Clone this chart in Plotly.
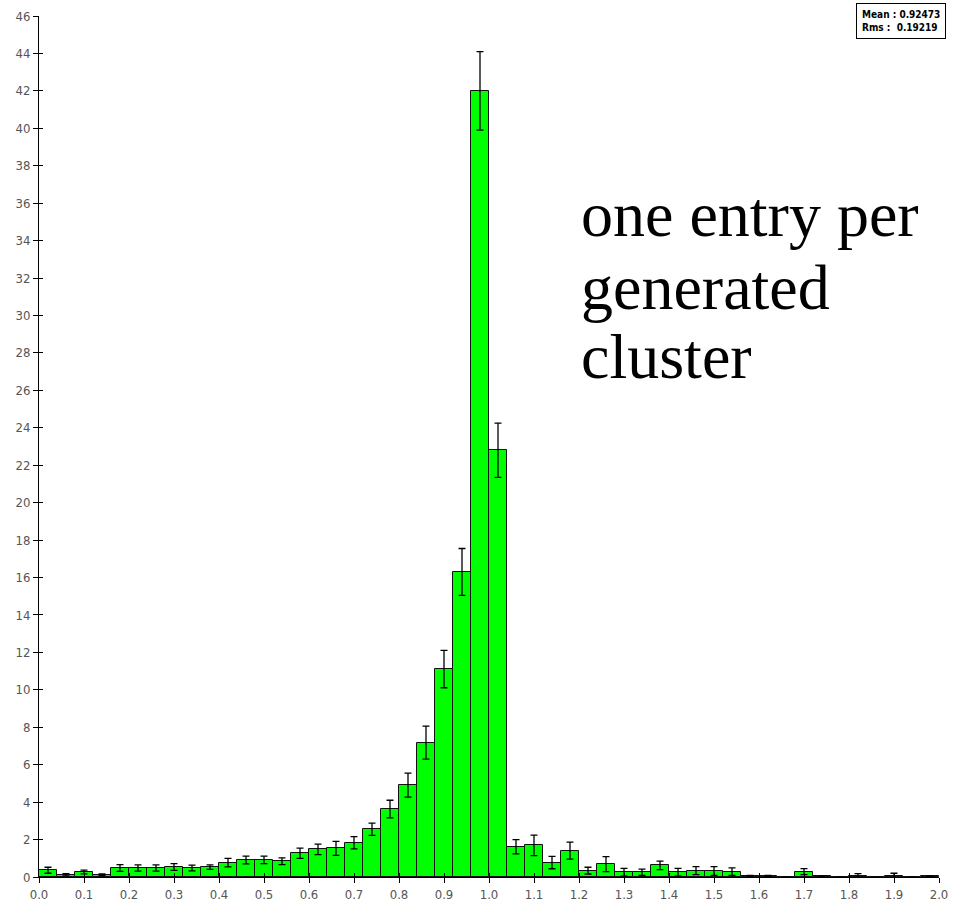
import plotly.graph_objects as go

bin_width = 0.04
values = [0.36, 0.12, 0.27, 0.12, 0.48, 0.48, 0.48, 0.53, 0.48, 0.53,
          0.77, 0.91, 0.91, 0.84, 1.27, 1.48, 1.53, 1.83, 2.55, 3.63,
          4.91, 7.18, 11.11, 16.3, 42.0, 22.8, 1.62, 1.69, 0.77, 1.41,
          0.34, 0.69, 0.25, 0.25, 0.62, 0.25, 0.34, 0.32, 0.29, 0.05,
          0.05, 0.0, 0.29, 0.03, 0.0, 0.08, 0.0, 0.08, 0.0, 0.03]
errors = [0.16, 0.06, 0.10, 0.05, 0.18, 0.17, 0.17, 0.18, 0.15, 0.12,
          0.23, 0.21, 0.20, 0.18, 0.27, 0.28, 0.37, 0.33, 0.33, 0.47,
          0.64, 0.88, 1.00, 1.25, 2.1, 1.45, 0.38, 0.55, 0.33, 0.45,
          0.18, 0.40, 0.21, 0.17, 0.23, 0.21, 0.21, 0.23, 0.20, 0.03,
          0.03, 0.0, 0.16, 0.02, 0.0, 0.10, 0.0, 0.12, 0.0, 0.02]
x_ticks = [0.0, 0.1, 0.2, 0.3, 0.4, 0.5, 0.6, 0.7, 0.8, 0.9, 1.0,
           1.1, 1.2, 1.3, 1.4, 1.5, 1.6, 1.7, 1.8, 1.9, 2.0]
y_ticks = list(range(0, 47, 2))
stats_text = "<b>Mean : 0.92473</b><br><b>Rms :  0.19219</b>"
label_lines = ["one entry per", "generated", "cluster"]

centers = [(i + 0.5) * bin_width for i in range(len(values))]

fig = go.Figure()
fig.add_trace(go.Bar(
    x=centers, y=values, width=[bin_width] * len(values),
    marker=dict(color="#00ff00", line=dict(color="#111111", width=1)),
    error_y=dict(type="data", array=errors, visible=True,
                 color="black", thickness=1.3, width=3.5),
    showlegend=False,
))

tickfont = dict(family="DejaVu Sans Condensed, DejaVu Sans", size=13, color="#555555")
fig.update_layout(
    width=964, height=905,
    margin=dict(l=39, r=25, t=16, b=28, autoexpand=False),
    paper_bgcolor="white", plot_bgcolor="white",
    bargap=0,
    xaxis=dict(range=[0, 2.0], tickvals=x_ticks, ticktext=[f"{v:.1f}" for v in x_ticks],
               showgrid=False, zeroline=False, showline=True, linecolor="black",
               linewidth=1, ticks="outside", ticklen=5, tickcolor="black",
               tickfont=tickfont, automargin=False),
    yaxis=dict(range=[0, 46], tickvals=y_ticks, showgrid=False, zeroline=False,
               showline=True, linecolor="black", linewidth=1, ticks="outside",
               ticklen=5, tickcolor="black", tickfont=tickfont, automargin=False),
    xaxis2=dict(overlaying="x", matches="x", range=[0, 2.0], tickvals=x_ticks,
                showticklabels=False, ticks="inside", ticklen=4, tickcolor="black",
                showgrid=False, zeroline=False, showline=False, side="bottom",
                automargin=False),
    yaxis2=dict(overlaying="y", matches="y", range=[0, 46], tickvals=y_ticks,
                showticklabels=False, ticks="inside", ticklen=4, tickcolor="black",
                showgrid=False, zeroline=False, showline=False, side="left",
                automargin=False),
)
fig.add_trace(go.Scatter(x=[0], y=[0], xaxis="x2", yaxis="y2", mode="markers",
                         marker=dict(opacity=0), showlegend=False, hoverinfo="skip"))

fig.add_annotation(
    text=stats_text, xref="paper", yref="paper", x=1.008, y=1.015,
    xanchor="right", yanchor="top", showarrow=False, align="left",
    font=dict(family="DejaVu Sans Condensed, DejaVu Sans", size=10, color="black"),
    bordercolor="black", borderwidth=1, borderpad=5, bgcolor="white",
)
line_centers_px = [214, 287, 357]
for line, ypx in zip(label_lines, line_centers_px):
    fig.add_annotation(
        text=line, xref="paper", yref="paper", x=(583 - 39) / 900 - 0.004,
        y=(877 - ypx) / 861, xanchor="left", yanchor="middle", showarrow=False,
        align="left",
        font=dict(family="Liberation Serif, Times New Roman, serif", size=64, color="black"),
    )

fig.write_html("out.html")
